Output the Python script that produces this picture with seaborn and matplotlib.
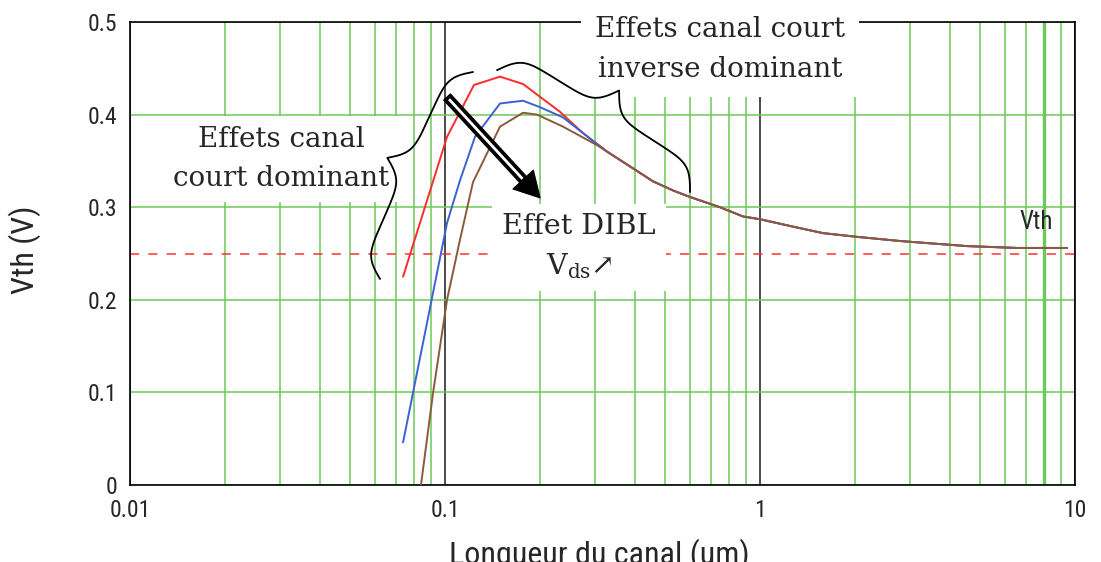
import numpy as np
import pandas as pd
import matplotlib
matplotlib.use("Agg")
import matplotlib.pyplot as plt
import seaborn as sns
from matplotlib import font_manager
from matplotlib.ticker import FixedLocator, FixedFormatter, LogLocator, NullFormatter

# Threshold voltage versus channel length, three drain biases (low -> high)
red_L = [0.0736, 0.1015, 0.1236, 0.1495, 0.1769, 0.2318, 0.2742]
red_vth = [0.225, 0.376, 0.432, 0.441, 0.433, 0.403, 0.380]

blue_L = [0.0736, 0.1015, 0.1116, 0.1245, 0.1495, 0.1769, 0.2002, 0.2369, 0.2742]
blue_vth = [0.046, 0.283, 0.329, 0.376, 0.412, 0.415, 0.408, 0.397, 0.380]

brown_L = [0.0839, 0.0916, 0.1015, 0.1116, 0.1227, 0.1495, 0.1769, 0.1959, 0.2369, 0.3038]
brown_vth = [0.0, 0.099, 0.200, 0.265, 0.327, 0.387, 0.402, 0.400, 0.387, 0.367]

# long-channel branch shared by the three curves
tail_L = [0.327, 0.395, 0.457, 0.530, 0.600, 0.746, 0.883, 1.0, 1.273, 1.585, 2.03, 2.78, 3.47, 4.54, 6.54, 9.44]
tail_vth = [0.360, 0.342, 0.328, 0.318, 0.311, 0.300, 0.290, 0.287, 0.279, 0.272, 0.268, 0.2635, 0.261, 0.258, 0.256, 0.256]

vth_long = 0.25

series_names = ["Vds faible", "Vds moyen", "Vds fort"]
series_colors = ["#ff2a2a", "#3a62d0", "#8b5a3c"]

x_ticks = [0.01, 0.1, 1, 10]
x_labels = ["0.01", "0.1", "1", "10"]
y_ticks = [0, 0.1, 0.2, 0.3, 0.4, 0.5]
y_labels = ["0", "0.1", "0.2", "0.3", "0.4", "0.5"]

frames = []
for name, L, v in zip(series_names, [red_L, blue_L, brown_L], [red_vth, blue_vth, brown_vth]):
    frames.append(pd.DataFrame({"L": L + tail_L, "Vth": v + tail_vth, "serie": name}))
df = pd.concat(frames, ignore_index=True)

sns.set_style("white")
avail = {f.name for f in font_manager.fontManager.ttflist}
narrow = next((f for f in ["Liberation Sans Narrow", "DejaVu Sans Condensed", "Roboto Condensed"]
               if f in avail), "Liberation Sans")
plt.rcParams["font.family"] = [narrow, "DejaVu Sans"]
plt.rcParams["mathtext.fontset"] = "dejavuserif"
serif = ["DejaVu Serif", "DejaVu Sans"]

GREEN = "#6cc95a"

fig = plt.figure(figsize=(11.01, 5.62), dpi=100)
ax = fig.add_axes([130 / 1101, 77 / 562, 945 / 1101, 463 / 562])

ax.set_xscale("log")
ax.set_xlim(0.01, 10)
ax.set_ylim(0, 0.5)

ax.xaxis.set_major_locator(FixedLocator(x_ticks))
ax.xaxis.set_major_formatter(FixedFormatter(x_labels))
ax.xaxis.set_minor_locator(LogLocator(base=10, subs=np.arange(2, 10)))
ax.xaxis.set_minor_formatter(NullFormatter())
ax.yaxis.set_major_locator(FixedLocator(y_ticks))
ax.yaxis.set_major_formatter(FixedFormatter(y_labels))

ax.set_axisbelow(True)
ax.grid(which="minor", axis="x", color=GREEN, lw=1.1)
ax.grid(which="major", axis="x", color="#1a1a1a", lw=1.1)
ax.grid(which="major", axis="y", color=GREEN, lw=1.1)
ax.axvline(8, color=GREEN, lw=2.4, zorder=0.6)

ax.tick_params(which="both", length=0, labelsize=17)
ax.tick_params(axis="x", pad=10)
ax.tick_params(axis="y", pad=9)
for s in ax.spines.values():
    s.set_color("black")
    s.set_linewidth(1.2)

# long-channel threshold reference
ax.axhline(vth_long, color="#ff3030", lw=1.1, ls=(0, (6, 6)), zorder=1)

sns.lineplot(data=df, x="L", y="Vth", hue="serie", hue_order=series_names,
             palette=series_colors, sort=False, estimator=None, legend=False,
             lw=1.4, ax=ax, zorder=4)

ax.set_xlabel("Longueur du canal (um)", fontsize=23)
ax.set_ylabel("Vth (V)", fontsize=23)
ax.xaxis.set_label_coords(0.497, -0.116)
ax.yaxis.set_label_coords(-0.094, 0.508)

box = dict(boxstyle="square,pad=0.35", facecolor="white", edgecolor="none")
ax.text(0.0302, 0.352, "Effets canal\ncourt dominant", family=serif, fontsize=20,
        ha="center", va="center", linespacing=1.6, bbox=box, zorder=3)
ax.text(0.746, 0.470, "Effets canal court\ninverse dominant", family=serif, fontsize=20,
        ha="center", va="center", linespacing=1.6,
        bbox=dict(boxstyle="square,pad=0.5", facecolor="white", edgecolor="none"), zorder=3)
ax.text(0.266, 0.257, "Effet DIBL\nV$_{\\mathrm{ds}}$\u2197", family=serif, fontsize=20.5,
        ha="center", va="center", linespacing=1.5, bbox=box, zorder=3)
ax.text(7.55, 0.284, "Vth", fontsize=18, ha="center", va="center", zorder=3)


def curly_brace(ax, p0, p1, width, side, beta=30.0, **kw):
    """Draw a curly brace between two data points, bulging `width` pixels sideways."""
    T = ax.transData
    a = T.transform(p0)
    b = T.transform(p1)
    d = b - a
    length = np.hypot(*d)
    u = d / length
    n = np.array([-u[1], u[0]]) * side
    s = np.linspace(0, 0.5, 201)
    half = 1 / (1 + np.exp(-beta * s)) + 1 / (1 + np.exp(-beta * (s - 0.5))) - 0.5
    prof = np.concatenate([half, half[-2::-1]])
    t = np.linspace(0, 1, prof.size)
    pts = a + np.outer(t * length, u) + np.outer(prof * width, n)
    data = T.inverted().transform(pts)
    ax.plot(data[:, 0], data[:, 1], clip_on=False, **kw)


curly_brace(ax, (0.1227, 0.446), (0.0622, 0.2225), 43, -1, color="black", lw=1.3, zorder=5)
curly_brace(ax, (0.1462, 0.448), (0.5995, 0.3164), 48, 1, color="black", lw=1.3, zorder=5)

# DIBL arrow: solid arrow with a hollow shaft
a_start = (0.1015, 0.419)
a_end = (0.2004, 0.310)
ax.annotate("", xy=a_end, xytext=a_start,
            arrowprops=dict(arrowstyle="simple,head_length=0.9,head_width=1.0,tail_width=0.33",
                            facecolor="black", edgecolor="black", lw=0.8,
                            shrinkA=0, shrinkB=0, mutation_scale=20),
            zorder=6)
T = ax.transData
pa, pb = T.transform(a_start), T.transform(a_end)
dv = (pb - pa) / np.hypot(*(pb - pa))
inner = T.inverted().transform(np.array([pa + dv * 3, pb - dv * 26]))
ax.plot(inner[:, 0], inner[:, 1], color="white", lw=2.0, solid_capstyle="butt", zorder=7)

fig.savefig("out.png", dpi=100)
